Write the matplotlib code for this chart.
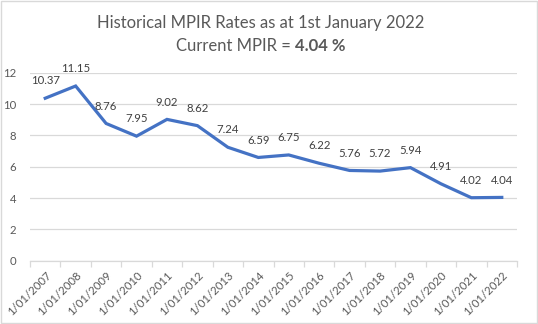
import matplotlib
matplotlib.use("Agg")
import matplotlib.pyplot as plt
from matplotlib.ticker import FixedLocator, NullFormatter
from matplotlib.transforms import ScaledTranslation

plt.rcParams["font.family"] = ["Lato", "DejaVu Sans"]

years = list(range(2007, 2023))
dates = [f"1/01/{y}" for y in years]
rates = [10.37, 11.15, 8.76, 7.95, 9.02, 8.62, 7.24, 6.59,
         6.75, 6.22, 5.76, 5.72, 5.94, 4.91, 4.02, 4.04]
current = "4.04 %"

grey = "#595959"
blue = "#4472C4"

fig = plt.figure(figsize=(5.38, 3.24), dpi=100)
fig.patch.set_facecolor("white")
# chart border
fig.add_artist(plt.Rectangle((0.002, 0.003), 0.996, 0.994, transform=fig.transFigure,
                             fill=False, edgecolor="#D9D9D9", linewidth=1))

ax = fig.add_axes([30 / 538, 1 - 260.7 / 324, 487 / 538, 188 / 324])
xs = list(range(len(rates)))
ax.plot(xs, rates, color=blue, linewidth=2.3, solid_joinstyle="miter")

for x, v in zip(xs, rates):
    ax.annotate(f"{v:.2f}", (x, v), xytext=(0, 12.5), textcoords="offset points",
                ha="center", va="center", fontsize=8.2, color="#404040")

ax.set_xlim(-0.5, len(rates) - 0.5)
ax.set_ylim(0, 12)
ax.set_yticks(range(0, 13, 2))
ax.grid(axis="y", color="#D9D9D9", linewidth=0.9)
ax.set_axisbelow(True)
for s in ("top", "right", "left"):
    ax.spines[s].set_visible(False)
ax.spines["bottom"].set_color("#D9D9D9")
ax.spines["bottom"].set_linewidth(0.9)
ax.tick_params(axis="y", length=0, pad=10, labelsize=8.2, labelcolor=grey)

ax.set_xticks(xs)
ax.set_xticklabels(dates, rotation=45, ha="right", va="center", rotation_mode="anchor",
                   fontsize=8.2, color=grey)
ax.tick_params(axis="x", which="major", length=0, pad=9)
shift = ScaledTranslation(4 / 100, 0, fig.dpi_scale_trans)
for lbl in ax.get_xticklabels():
    lbl.set_transform(lbl.get_transform() + shift)
ax.xaxis.set_minor_locator(FixedLocator([i - 0.5 for i in range(len(rates) + 1)]))
ax.xaxis.set_minor_formatter(NullFormatter())
ax.tick_params(axis="x", which="minor", length=4, color="#D9D9D9", width=0.9)

# title
cx = 261 / 538
fig.text(cx, 1 - 23 / 324, "Historical MPIR Rates as at 1st January 2022",
         ha="center", va="center", fontsize=12, color=grey)
renderer = fig.canvas.get_renderer()
t1 = fig.text(0, 1 - 46 / 324, "Current MPIR = ", ha="left", va="center",
              fontsize=12, color=grey)
t2 = fig.text(0, 1 - 46 / 324, current, ha="left", va="center",
              fontsize=12, color=grey, fontweight="bold")
w1 = t1.get_window_extent(renderer).width / fig.bbox.width
w2 = t2.get_window_extent(renderer).width / fig.bbox.width
t1.set_x(cx - (w1 + w2) / 2)
t2.set_x(cx - (w1 + w2) / 2 + w1)

fig.savefig("out.png", dpi=100)
